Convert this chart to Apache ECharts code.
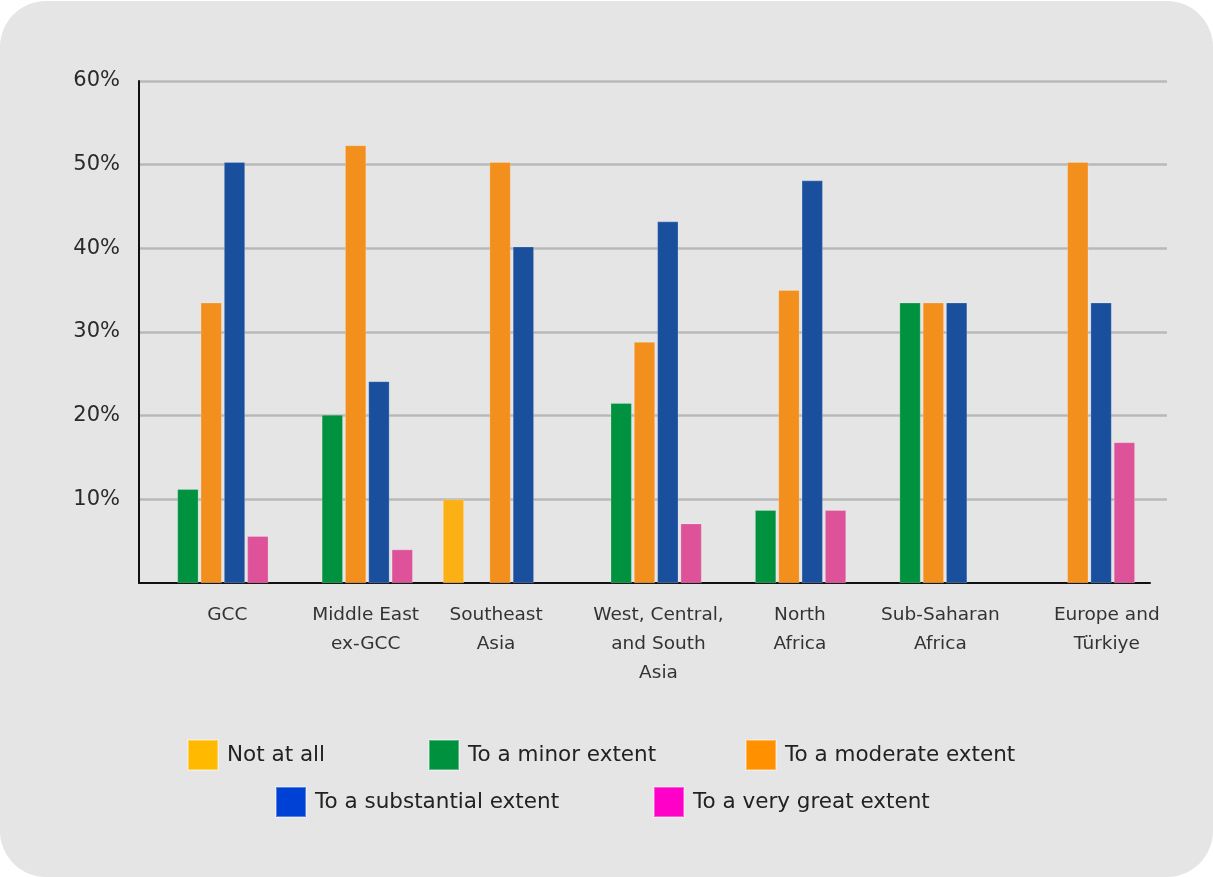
<!DOCTYPE html>
<html>
<head>
<meta charset="utf-8">
<script src="https://cdn.jsdelivr.net/npm/echarts@6/dist/echarts.min.js"></script>
<style>
html,body{margin:0;padding:0;background:#ffffff;}
#wrap{position:absolute;left:0;top:1px;width:1213px;height:876px;background:#e5e5e5;border-radius:46px;}
#chart{position:absolute;left:0;top:-1px;width:1213px;height:877px;}
</style>
</head>
<body>
<div id="wrap"></div>
<div id="chart"></div>
<script>
const categories = ['GCC', 'Middle East\nex-GCC', 'Southeast\nAsia', 'West, Central,\nand South\nAsia', 'North\nAfrica', 'Sub-Saharan\nAfrica', 'Europe and\nTürkiye'];
const seriesNames = ['Not at all', 'To a minor extent', 'To a moderate extent', 'To a substantial extent', 'To a very great extent'];
const notAtAll    = [null, null, 10.0, null, null, null, null];
const minor       = [11.2, 20.1, null, 21.5, 8.7, 33.5, null];
const moderate    = [33.5, 52.3, 50.3, 28.8, 35.0, 33.5, 50.3];
const substantial = [50.3, 24.1, 40.2, 43.2, 48.1, 33.5, 33.5];
const veryGreat   = [5.6, 4.0, null, 7.1, 8.7, null, 16.8];
const yTicks = [0, 10, 20, 30, 40, 50, 60];

const barColors = ['#fbb116', '#00923f', '#f28f1d', '#1a4f9e', '#de5299'];
const legendColors = ['#ffba00', '#00913e', '#ff9100', '#0041d5', '#ff00c8'];
const values = [notAtAll, minor, moderate, substantial, veryGreat];
const legendPos = [[187, 740], [428, 740], [745, 740], [275, 787], [653, 787]];
// horizontal nudges of the category labels (px), as in the reference
const labelShift = [16, 10, -4, 14, 11, 7, 29];

const font = 'DejaVu Sans';
const chart = echarts.init(document.getElementById('chart'));

const series = values.map((v, i) => ({
  name: seriesNames[i],
  type: 'bar',
  xAxisIndex: 1,
  yAxisIndex: 1,
  data: v,
  barWidth: 21,
  barGap: '11%',
  itemStyle: { color: barColors[i], borderColor: 'rgba(255,255,255,0.35)', borderWidth: 0.6 },
  emphasis: { disabled: true }
}));

const legends = seriesNames.map((n, i) => ({
  left: legendPos[i][0],
  top: legendPos[i][1],
  padding: 0,
  orient: 'horizontal',
  itemWidth: 30,
  itemHeight: 30,
  icon: 'rect',
  selectedMode: false,
  data: [{ name: n, itemStyle: { color: legendColors[i] } }],
  textStyle: { fontFamily: font, fontSize: 21.5, color: '#222', padding: [0, 0, 0, 4] }
}));

const rich = {};
labelShift.forEach((s, i) => {
  rich['c' + i] = {
    fontFamily: font, fontSize: 18.5, color: '#333', lineHeight: 29,
    padding: s >= 0 ? [0, 0, 0, 2 * s] : [0, -2 * s, 0, 0]
  };
});

const gridTop = 82, gridBottom = 293;
const step = (877 - gridTop - gridBottom) / (yTicks.length - 1);

chart.setOption({
  animation: false,
  backgroundColor: 'transparent',
  legend: legends,
  grid: [
    // gridlines (10%..60%) run a little further right than the axis
    { left: 139, right: 46, top: gridTop, bottom: gridBottom + step },
    { left: 139, right: 63, top: gridTop, bottom: gridBottom }
  ],
  xAxis: [
    { gridIndex: 0, type: 'category', data: categories, show: false },
    {
      gridIndex: 1, type: 'category', data: categories,
      axisLine: { show: true, lineStyle: { color: '#111', width: 2 } },
      axisTick: { show: false },
      axisLabel: {
        interval: 0, fontFamily: font, fontSize: 18.5, color: '#333',
        lineHeight: 29, margin: 18,
        formatter: (val, idx) => '{c' + idx + '|' + val + '}',
        rich: rich
      }
    }
  ],
  yAxis: [
    {
      gridIndex: 0, type: 'value', min: yTicks[1], max: yTicks[yTicks.length - 1], interval: 10,
      axisLine: { show: false }, axisTick: { show: false }, axisLabel: { show: false },
      splitLine: { show: true, lineStyle: { color: '#b8b8b8', width: 2.5 } }
    },
    {
      gridIndex: 1, type: 'value', min: yTicks[0], max: yTicks[yTicks.length - 1], interval: 10,
      axisLine: { show: true, lineStyle: { color: '#111', width: 2 } },
      axisTick: { show: false },
      splitLine: { show: false },
      axisLabel: {
        fontFamily: font, fontSize: 21, color: '#2a2a2a', margin: 19,
        formatter: v => v === 0 ? '' : v + '%'
      }
    }
  ],
  series: series
});
</script>
</body>
</html>
